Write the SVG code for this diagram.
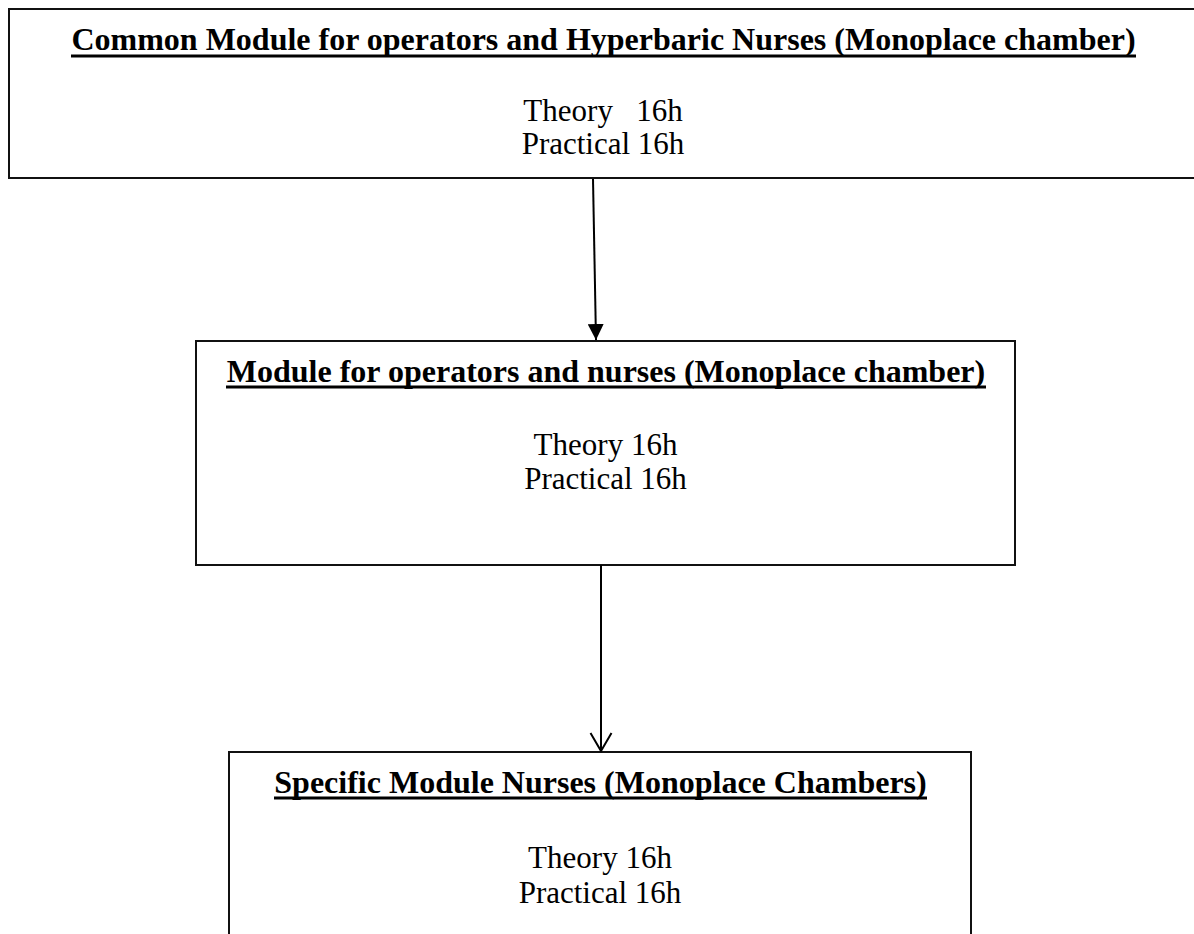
<svg xmlns="http://www.w3.org/2000/svg" width="1194" height="934" viewBox="0 0 1194 934">
  <style>
    .box { fill: #ffffff; stroke: #111111; stroke-width: 2; }
    .title { font-family: "Liberation Serif", "Times New Roman", serif; font-size: 32px; font-weight: bold; text-anchor: middle; fill: #000; }
    .uline { fill: #000; }
    .body { font-family: "Liberation Serif", "Times New Roman", serif; font-size: 31px; text-anchor: middle; fill: #000; }
    .conn { stroke: #000; stroke-width: 2; fill: none; }
  </style>
  <defs>
    <marker id="filled" markerUnits="userSpaceOnUse" markerWidth="16" markerHeight="16" viewBox="0 0 16 16" refX="16" refY="8" orient="auto">
      <path d="M0,0 L16,8 L0,16 Z" fill="#000"/>
    </marker>
  </defs>
  <rect width="1194" height="934" fill="#fff"/>
  <g id="node-common">
    <rect class="box" x="9" y="9" width="1190" height="169"/>
    <text class="title" x="603.5" y="50">Common Module for operators and Hyperbaric Nurses (Monoplace chamber)</text>
    <rect class="uline" x="71" y="54.5" width="1065" height="3"/>
    <text class="body" x="603" y="121" xml:space="preserve">Theory   16h</text>
    <text class="body" x="603" y="154">Practical 16h</text>
  </g>
  <g id="node-module">
    <rect class="box" x="196" y="341" width="819" height="224"/>
    <text class="title" x="606" y="382">Module for operators and nurses (Monoplace chamber)</text>
    <rect class="uline" x="226" y="385.5" width="760" height="3"/>
    <text class="body" x="605.5" y="455">Theory 16h</text>
    <text class="body" x="605.5" y="489">Practical 16h</text>
  </g>
  <g id="node-specific">
    <rect class="box" x="229" y="752" width="742" height="200"/>
    <text class="title" x="600.5" y="793">Specific Module Nurses (Monoplace Chambers)</text>
    <rect class="uline" x="274" y="796.5" width="653" height="3"/>
    <text class="body" x="600" y="868">Theory 16h</text>
    <text class="body" x="600" y="903">Practical 16h</text>
  </g>
  <g id="connectors">
    <line class="conn" x1="593" y1="179" x2="596" y2="340" marker-end="url(#filled)"/>
    <line class="conn" x1="601" y1="565" x2="601" y2="751"/>
    <polyline class="conn" points="590.5,733 601,751 611.5,733"/>
  </g>
</svg>
